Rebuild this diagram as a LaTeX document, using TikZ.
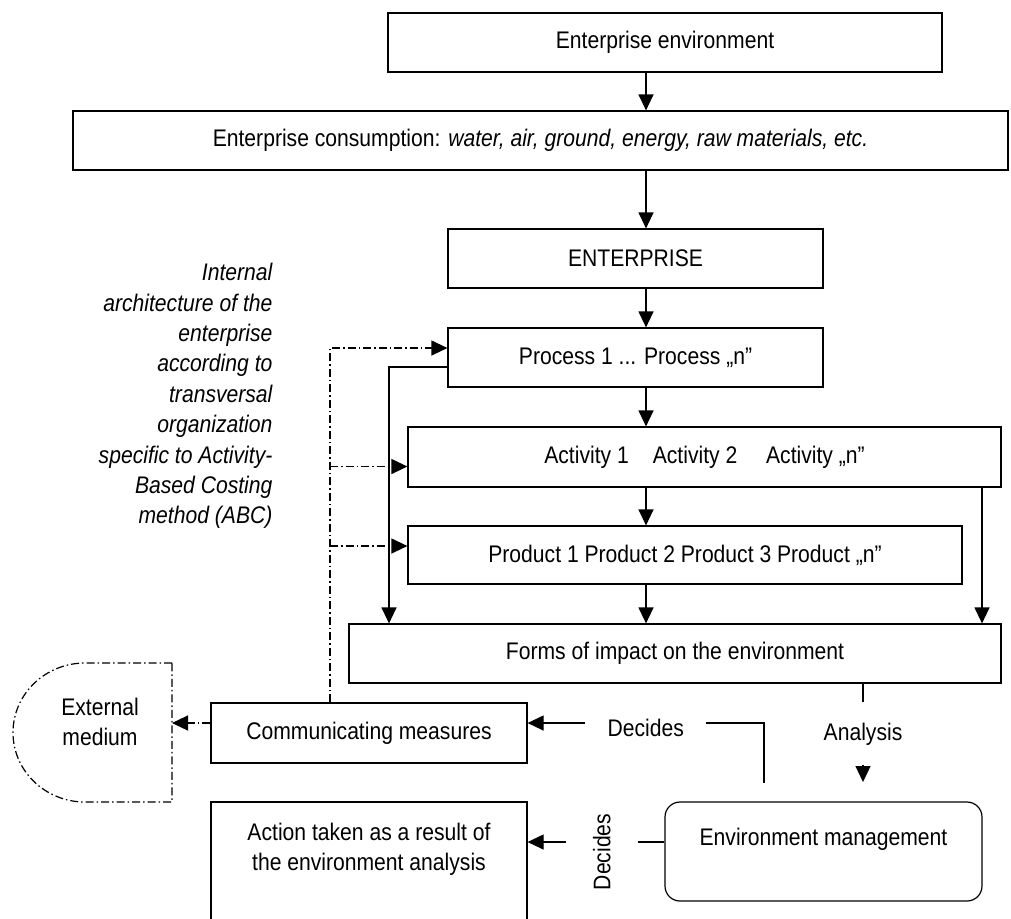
\documentclass[tikz,border=0pt]{standalone}
\usepackage{fontspec}
\setmainfont[FakeStretch=0.88]{Liberation Sans}
\usepackage{tikz}
\usetikzlibrary{arrows.meta}

\begin{document}
\begin{tikzpicture}[x=0.5pt,y=-0.5pt,->,>={Triangle[length=8pt,width=7.5pt]},line width=0.6pt,
    font=\fontsize{12}{15.2}\selectfont]
    \tikzstyle{box}=[draw,rectangle,minimum height=29.5pt,inner sep=0pt,align=center]
    \tikzstyle{round box}=[box,rounded corners=7.5pt]
    \tikzstyle{dashdotted line}=[dash pattern=on 4pt off 1.5pt on 0.75pt off 1.5pt]
    \tikzstyle{gap label}=[fill=white,inner sep=0pt]
    \tikzstyle{annot}=[align=right,inner sep=0pt,anchor=east,font=\fontsize{12}{15.2}\selectfont\itshape]

    \useasboundingbox (0,0) rectangle (1011,918);

    % Draw the main chain of boxes
    \node[box,minimum width=277pt] (env) at (665,42.5) {Enterprise environment};
    \node[box,minimum width=467.5pt] (cons) at (540.5,140.5)
        {Enterprise consumption: \textit{water, air, ground, energy, raw materials, etc.}};
    \node[box,minimum width=187.5pt] (ent) at (635.5,258.5) {ENTERPRISE};
    \node[box,minimum width=187.5pt] (proc) at (635.5,357.5) {Process 1 ... Process „n”};
    \node[box,minimum width=296.5pt,minimum height=30pt] (act) at (704.5,457)
        {Activity 1\quad Activity 2\hspace{1.2em}Activity „n”};
    \node[box,minimum width=277pt,minimum height=29pt] (prod) at (685,555)
        {Product 1 Product 2 Product 3 Product „n”};
    \node[box,minimum width=326pt] (forms) at (675,653.5) {Forms of impact on the environment};

    % Draw the boxes at the bottom
    \node[box,minimum width=158pt,minimum height=30pt] (comm) at (369,733) {Communicating measures};
    \node[box,minimum width=158pt,minimum height=60pt] (res) at (369,862)
        {Action taken as a result of\\the environment analysis\\\mbox{}};
    \node[round box,minimum width=158.5pt,minimum height=49.5pt] (mgmt) at (823.5,851.5)
        {Environment management\\\mbox{}};

    % External medium
    \draw[-,dashdotted line] (172,663) -- (85,663)
        arc[start angle=90,end angle=270,x radius=36pt,y radius=34.75pt] -- (172,802) -- cycle;
    \node[align=center] (ext) at (100,722) {External\\medium};
    \coordinate (ext-e) at (172,723);

    % Annotate the internal architecture
    \node[annot] (abc) at (273,396) {Internal\\architecture of the\\enterprise\\according to\\transversal\\organization\\specific to Activity-\\Based Costing\\method (ABC)};

    \coordinate (main) at (646,0);
    \coordinate (lft) at (389,0);
    \coordinate (rgt) at (982,0);
    \coordinate (dsh) at (330,0);
    \coordinate (an) at (863,0);
    \coordinate (an-e) at (863,782);
    \coordinate (dec) at (764,783);

    % Connect the boxes of the main chain
    \foreach \source/\dest in {env/cons,cons/ent,ent/proc,proc/act,act/prod,prod/forms}
        \draw (main |- \source.south) -- (main |- \dest.north);

    % Side links down to the forms of impact
    \draw ([yshift=-4.75pt]proc.west) -| (lft |- forms.north);
    \draw (rgt |- act.south) -- (rgt |- forms.north);

    % Dash-dotted links of the communicating measures
    \draw[dashdotted line] (dsh |- comm.north) |- ([yshift=4.75pt]proc.west);
    \draw[dashdotted line] ([yshift=-4.75pt]act.west -| dsh) -- ([yshift=-4.75pt]act.west);
    \draw[dashdotted line] ([yshift=4.5pt]prod.west -| dsh) -- ([yshift=4.5pt]prod.west);
    \draw[dashdotted line] ([yshift=5pt]comm.west) -- (ext-e);

    % Analysis and decisions
    \draw (an |- forms.south) -- node[gap label,pos=0.51,minimum height=31.5pt] {Analysis} (an-e);
    \draw (dec) |- node[gap label,pos=0.75,yshift=-2.5pt,minimum width=60.5pt,minimum height=14pt] {Decides}
        ([yshift=5pt]comm.east);
    \draw ([yshift=4.75pt]mgmt.west) -- ([yshift=4.75pt]mgmt.west -| res.east)
        node[gap label,pos=0.457,yshift=-5pt,rotate=90,minimum height=36pt] {Decides};

\end{tikzpicture}
\end{document}
